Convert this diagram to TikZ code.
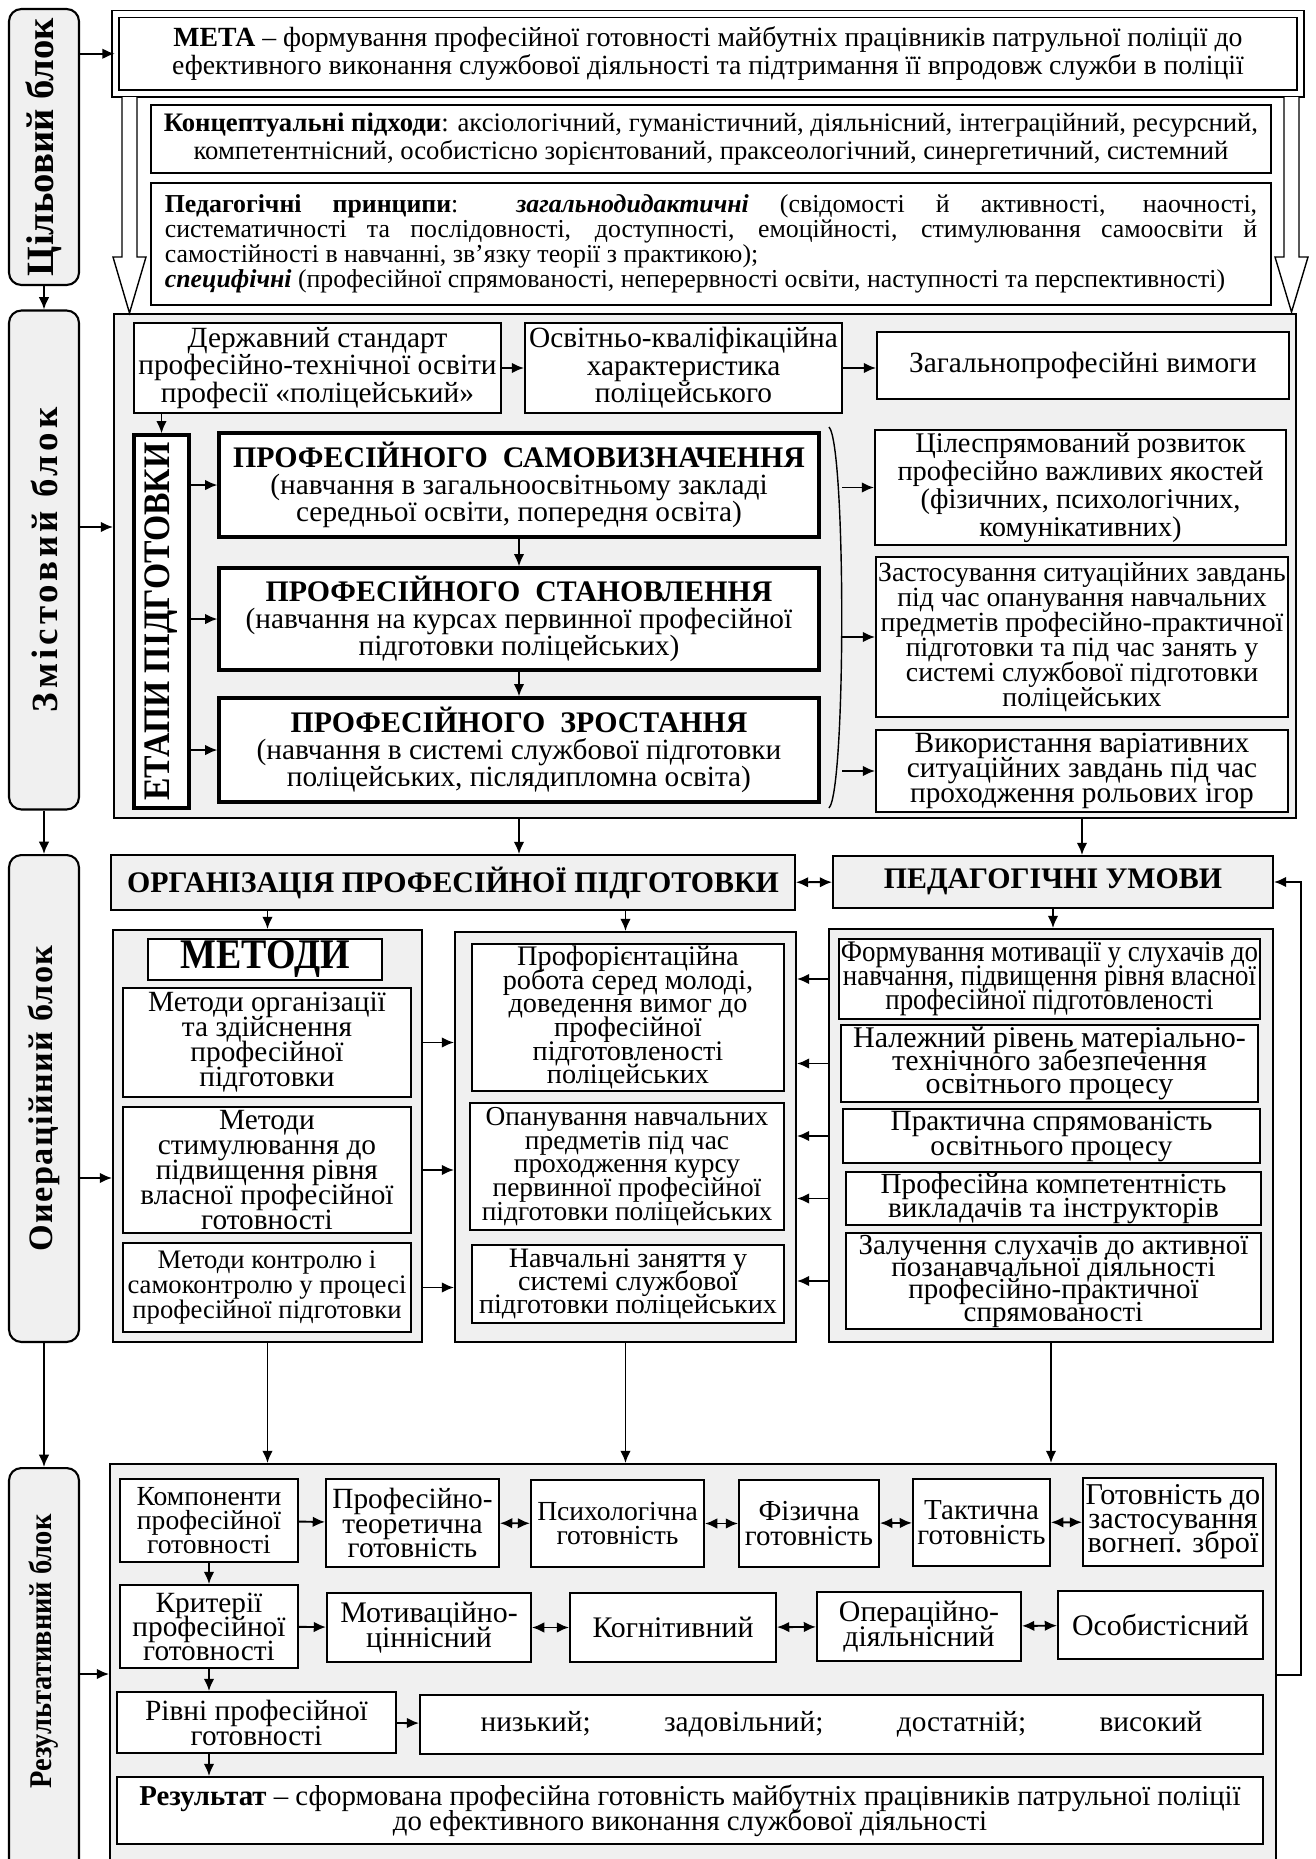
\documentclass[tikz,border=0pt]{standalone}
\usepackage{fontspec}
\usepackage{graphicx}
\setmainfont{Liberation Serif}
\newfontfamily\narrowfont{Liberation Serif}[FakeStretch=0.9]
\newfontfamily\spacedfont{Liberation Serif}[LetterSpace=11]
\newfontfamily\spacedfontb{Liberation Serif}[LetterSpace=4]
\usetikzlibrary{arrows.meta}

\newcommand{\fs}[2]{\fontsize{#1}{#2}\selectfont\lineskiplimit=-30pt}
\newcommand{\ttlf}{\fontsize{17}{17}\selectfont\bfseries}

\begin{document}
\begin{tikzpicture}
        [
        x=0.02cm, y=-0.02cm,
        Block/.style={rectangle, draw, rounded corners=7pt, line width=1.2pt, fill=black!6},
        Frame/.style={rectangle, draw, line width=1.1pt, fill=black!6},
        Box/.style={rectangle, draw, line width=1.1pt, fill=white, align=center, inner sep=1pt, font=\fs{16.7}{14.2}},
        Stage/.style={Box, line width=1.8pt, font=\fs{16.7}{15.4}},
        Arr/.style={-{Latex[length=7pt,width=6pt]}, line width=1.1pt},
        DArr/.style={{Latex[length=7pt,width=6pt]}-{Latex[length=7pt,width=6pt]}, line width=1.1pt},
        ]

    \useasboundingbox (0,0) rectangle (1315,1859);
    \clip (0,0) rectangle (1315,1859);

    \node[Block, minimum width=1.4cm, minimum height=5.52cm] (b1) at (44,147) {\rotatebox{90}{\fontsize{22}{22}\selectfont\bfseries Цільовий блок}};
    \node[Block, minimum width=1.4cm, minimum height=9.98cm] (b2) at (44,560) {\rotatebox{90}{\spacedfont\fontsize{21}{21}\selectfont\bfseries Змістовий блок}};
    \node[Block, minimum width=1.4cm, minimum height=9.74cm] (b3) at (44,1098.5) {\rotatebox{90}{\spacedfontb\fontsize{19.5}{19.5}\selectfont\bfseries Оиераційний блок}};
    \node[Block, minimum width=1.4cm, minimum height=8.24cm] (b4) at (44,1674) {\rotatebox{90}{\narrowfont\fontsize{18}{18}\selectfont\bfseries\hspace*{0.9cm}Результативний блок}};

    \node[Frame, minimum width=23.64cm, minimum height=10.08cm] (cont) at (705,566) {};
    \node[Frame, minimum width=13.68cm, minimum height=1.1cm, font=\ttlf] (org) at (453,882.5) {ОРГАНІЗАЦІЯ ПРОФЕСІЙНОЇ ПІДГОТОВКИ};
    \node[Frame, minimum width=8.8cm, minimum height=1.04cm, font=\ttlf] (cond) at (1053,882) {ПЕДАГОГІЧНІ УМОВИ};
    \node[Frame, minimum width=6.18cm, minimum height=8.24cm] (meth) at (267.5,1136) {};
    \node[Frame, minimum width=6.82cm, minimum height=8.2cm] (mid) at (625.5,1137) {};
    \node[Frame, minimum width=8.88cm, minimum height=8.26cm] (rc) at (1051,1135.5) {};
    \node[Frame, minimum width=23.32cm, minimum height=8.32cm] (res) at (693,1672) {};

    \node[Box, line width=1pt, double, double distance=3pt, minimum width=23.7cm, minimum height=1.59cm, font=\fs{15.8}{16}] (meta) at (708,53.75)
        {\textbf{МЕТА} – формування професійної готовності майбутніх працівників патрульної поліції до\\
         ефективного виконання службової діяльності та підтримання її впродовж служби в поліції};
    \node[Box, minimum width=22.4cm, minimum height=1.36cm, font=\fs{15.2}{16}] (appr) at (711,139)
        {\textbf{Концептуальні підходи}: аксіологічний, гуманістичний, діяльнісний, інтеграційний, ресурсний,\\
         компетентнісний, особистісно зорієнтований, праксеологічний, синергетичний, системний};
    \node[Box, minimum width=22.4cm, minimum height=2.44cm, align=left, font=\fs{14.7}{14.2}] (princ) at (711,244)
        {\makebox[21.85cm][s]{\textbf{Педагогічні принципи}: \textbf{\textit{загальнодидактичні}} (свідомості й активності, наочності,}\\
         \makebox[21.85cm][s]{систематичності та послідовності, доступності, емоційності, стимулювання самоосвіти й}\\
         самостійності в навчанні, зв’язку теорії з практикою);\\
         \textbf{\textit{специфічні}} (професійної спрямованості, неперервності освіти, наступності та перспективності)};

    \node[Box, minimum width=7.34cm, minimum height=1.8cm, font=\fs{16.7}{15.6}] (std) at (317.5,368) {Державний стандарт\\ професійно-технічної освіти\\ професії «поліцейський»};
    \node[Box, minimum width=6.34cm, minimum height=1.8cm, font=\fs{16.7}{15.6}] (okh) at (683.5,368) {Освітньо-кваліфікаційна\\ характеристика\\ поліцейського};
    \node[Box, minimum width=8.24cm, minimum height=1.34cm] (req) at (1083,365.5) {Загальнопрофесійні вимоги};
    \node[Box, line width=1.8pt, minimum width=1.1cm, minimum height=7.46cm] (stages) at (161.5,621.5) {\rotatebox{90}{\narrowfont\fontsize{21.3}{21.3}\selectfont\bfseries ЕТАПИ ПІДГОТОВКИ}};
    \node[Stage, minimum width=12cm, minimum height=2.08cm] (s1) at (519,485) {{\ttlf ПРОФЕСІЙНОГО\ \ САМОВИЗНАЧЕННЯ}\\ (навчання в загальноосвітньому закладі\\ середньої освіти, попередня освіта)};
    \node[Stage, minimum width=12cm, minimum height=2.04cm] (s2) at (519,619) {{\ttlf ПРОФЕСІЙНОГО\ \ СТАНОВЛЕННЯ}\\ (навчання на курсах первинної професійної\\ підготовки поліцейських)};
    \node[Stage, minimum width=12cm, minimum height=2.08cm] (s3) at (519,750) {{\ttlf ПРОФЕСІЙНОГО\ \ ЗРОСТАННЯ}\\ (навчання в системі службової підготовки\\ поліцейських, післядипломна освіта)};
    \node[Box, minimum width=8.22cm, minimum height=2.3cm, font=\fs{16.2}{16}] (q1) at (1080.5,487.5) {Цілеспрямований розвиток\\ професійно важливих якостей\\ (фізичних, психологічних,\\ комунікативних)};
    \node[Box, minimum width=8.24cm, minimum height=3.2cm, font=\fs{15.8}{14.2}] (q2) at (1082,637) {Застосування ситуаційних завдань\\ під час опанування навчальних\\ предметів професійно-практичної\\ підготовки та під час занять у\\ системі службової підготовки\\ поліцейських};
    \node[Box, minimum width=8.24cm, minimum height=1.64cm] (q3) at (1082,771) {Використання варіативних\\ ситуаційних завдань під час\\ проходження рольових ігор};
    \coordinate (br) at (842,620);

    \node[Box, minimum width=4.68cm, minimum height=0.7cm, font=\narrowfont\fontsize{24}{24}\selectfont\bfseries] (methT) at (265,959.5) {МЕТОДИ};
    \node[Box, minimum width=5.76cm, minimum height=2.18cm] (m1) at (267,1042.5) {Методи організації\\ та здійснення\\ професійної\\ підготовки};
    \node[Box, minimum width=5.76cm, minimum height=2.52cm] (m2) at (267,1170) {Методи\\ стимулювання до\\ підвищення рівня\\ власної професійної\\ готовності};
    \node[Box, minimum width=5.76cm, minimum height=1.78cm, font=\fs{15.2}{14.2}] (m3) at (267,1287.5) {Методи контролю і\\ самоконтролю у процесі\\ професійної підготовки};
    \node[Box, minimum width=6.24cm, minimum height=2.86cm, font=\fs{16.1}{13.5}] (c1) at (628,1017.5) {Профорієнтаційна\\ робота серед молоді,\\ доведення вимог до\\ професійної\\ підготовленості\\ поліцейських};
    \node[Box, minimum width=6.28cm, minimum height=2.54cm, font=\fs{15.6}{13.5}] (c2) at (627,1166.5) {Опанування навчальних\\ предметів під час\\ проходження курсу\\ первинної професійної\\ підготовки поліцейських};
    \node[Box, minimum width=6.24cm, minimum height=1.56cm, font=\fs{16}{13}] (c3) at (628,1284) {Навчальні заняття у\\ системі службової\\ підготовки поліцейських};
    \node[Box, minimum width=8.34cm, minimum height=1.6cm, font=\narrowfont\fs{17}{13.7}] (u1) at (1049.5,979) {Формування мотивації у слухачів до\\ навчання, підвищення рівня власної\\ професійної підготовленості};
    \node[Box, minimum width=8.34cm, minimum height=1.42cm, font=\fs{17.1}{13}] (u2) at (1049.5,1063.5) {Належний рівень матеріально-\\ технічного забезпечення\\ освітнього процесу};
    \node[Box, minimum width=8.34cm, minimum height=1.08cm] (u3) at (1051.5,1136) {Практична спрямованість\\ освітнього процесу};
    \node[Box, minimum width=8.3cm, minimum height=1.06cm, font=\fs{16.6}{13.2}] (u4) at (1053.5,1198.5) {Професійна компетентність\\ викладачів та інструкторів};
    \node[Box, minimum width=8.3cm, minimum height=1.8cm, font=\fs{16.5}{12.7}] (u5) at (1053.5,1281) {Залучення слухачів до активної\\ позанавчальної діяльності\\ професійно-практичної\\ спрямованості};

    \node[Box, minimum width=3.56cm, minimum height=1.66cm, font=\fs{15.7}{13.7}] (k1) at (209,1520.5) {Компоненти\\ професійної\\ готовності};
    \node[Box, minimum width=3.46cm, minimum height=1.76cm, font=\fs{16.7}{13.7}] (k2) at (412.5,1523) {Професійно-\\ теоретична\\ готовність};
    \node[Box, minimum width=3.46cm, minimum height=1.74cm, font=\fs{15.7}{14}] (k3) at (617.5,1523.5) {Психологічна\\ готовність};
    \node[Box, minimum width=2.8cm, minimum height=1.74cm, font=\fs{16.5}{14}] (k4) at (809,1523.5) {Фізична\\ готовність};
    \node[Box, minimum width=2.74cm, minimum height=1.74cm, font=\fs{16.5}{14}] (k5) at (981.5,1522.5) {Тактична\\ готовність};
    \node[Box, minimum width=3.6cm, minimum height=1.76cm, font=\fs{17.2}{13.7}] (k6) at (1173,1522) {Готовність до\\ застосування\\ вогнеп. зброї};
    \node[Box, minimum width=3.56cm, minimum height=1.66cm, font=\fs{16.7}{13.7}] (r1) at (209,1626.5) {Критерії\\ професійної\\ готовності};
    \node[Box, minimum width=4.08cm, minimum height=1.38cm, font=\fs{17}{14}] (r2) at (429,1627.5) {Мотиваційно-\\ ціннісний};
    \node[Box, minimum width=4.12cm, minimum height=1.38cm, font=\fs{17}{14}] (r3) at (673,1627.5) {Когнітивний};
    \node[Box, minimum width=4.08cm, minimum height=1.38cm, font=\fs{17}{14}] (r4) at (919,1626.5) {Операційно-\\ діяльнісний};
    \node[Box, minimum width=4.1cm, minimum height=1.36cm, font=\fs{17}{14}] (r5) at (1160.5,1625) {Особистісний};
    \node[Box, minimum width=5.58cm, minimum height=1.22cm] (l1) at (256.5,1722.5) {Рівні професійної\\ готовності};
    \node[Box, minimum width=16.86cm, minimum height=1.18cm, text width=14.44cm, align=left] (l2) at (841.5,1724.5) {низький;\hfill задовільний;\hfill достатній;\hfill високий};
    \node[Box, minimum width=22.92cm, minimum height=1.34cm, font=\fs{16.4}{14.2}] (rs) at (690,1810.5) {\textbf{Результат} – сформована професійна готовність майбутніх працівників патрульної поліції\\ до ефективного виконання службової діяльності};

    \draw[line width=0.8pt, fill=white] (122,97) -- (122,257) -- (113,257) -- (129.5,313) -- (146,257) -- (137,257) -- (137,97);
    \draw[line width=0.8pt, fill=white] (1284,97) -- (1284,257) -- (1275,257) -- (1291.5,312) -- (1308,257) -- (1299,257) -- (1299,97);
    \draw[line width=0.8pt] (829,427) .. controls (846,445) and (846,790) .. (829,808);

    \draw[Arr] (b1.east |- meta) -- (meta.west);
    \draw[Arr] (b1) -- (b2);
    \draw[Arr] (b2) -- (b3);
    \draw[Arr] (b3) -- (b4);
    \coordinate (a2) at ([yshift=0.66cm]b2.east);
    \draw[Arr] (a2) -- (a2 -| cont.west);
    \coordinate (a3) at ([yshift=-1.59cm]b3.east);
    \draw[Arr] (a3) -- (a3 -| meth.west);
    \draw[Arr] (b4) -- (b4 -| res.west);

    \draw[Arr] (std) -- (okh);
    \draw[Arr] (okh) -- (okh -| req.west);
    \draw[Arr] (std.south -| stages) -- (stages.north);
    \foreach \s in {s1,s2,s3}
        \draw[Arr] (stages.east |- \s) -- (\s.west);
    \draw[Arr] (s1) -- (s2);
    \draw[Arr] (s2) -- (s3);
    \foreach \q in {q1,q2,q3}
        \draw[Arr] (br |- \q) -- (\q.west);

    \draw[Arr] (s1 |- cont.south) -- (s1 |- org.north);
    \draw[Arr] (q3 |- cont.south) -- (q3 |- cond.north);
    \draw[DArr] (org) -- (cond);
    \draw[Arr] (org.south -| meth) -- (meth.north);
    \draw[Arr] (org.south -| mid) -- (mid.north);
    \draw[Arr] (cond.south) -- (cond.south |- rc.north);
    \foreach \m in {m1,m2,m3}
        \draw[Arr] (meth.east |- \m) -- (mid.west |- \m);
    \foreach \u in {u1,u2,u3,u4,u5}
        \draw[Arr] (rc.west |- \u) -- (mid.east |- \u);
    \draw[Arr] (meth) -- (meth |- res.north);
    \draw[Arr] (mid) -- (mid |- res.north);
    \draw[Arr] (rc) -- (rc |- res.north);

    \draw[Arr] (k1) -- (k2);
    \draw[DArr] (k2) -- (k3);
    \draw[DArr] (k3) -- (k4);
    \draw[DArr] (k4) -- (k5);
    \draw[DArr] (k5) -- (k6);
    \draw[Arr] (k1) -- (r1);
    \draw[Arr] (r1) -- (r2);
    \draw[DArr] (r2) -- (r3);
    \draw[DArr] (r3) -- (r4);
    \draw[DArr] (r4) -- (r5);
    \draw[Arr] (r1.south) -- (r1.south |- l1.north);
    \draw[Arr] (l1) -- (l2);
    \draw[Arr] (l1.south -| r1) -- (rs.north -| r1);
    \coordinate (fb) at (1301,1675);
    \draw[Arr] (res.east |- fb) -- (fb) |- (cond.east);

\end{tikzpicture}
\end{document}
